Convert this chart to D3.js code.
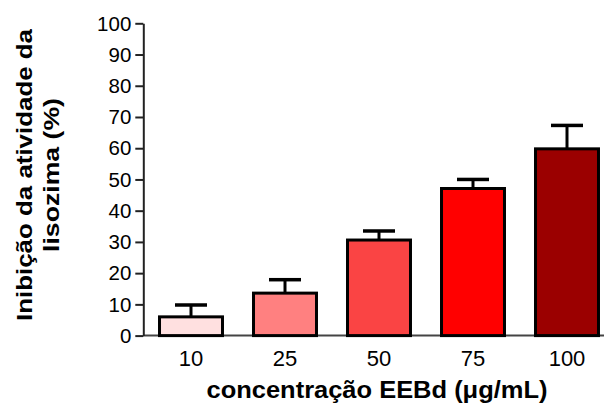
<!DOCTYPE html>
<html>
<head>
<meta charset="utf-8">
<script src="https://cdn.jsdelivr.net/npm/d3@7"></script>
<style>
  html, body { margin: 0; padding: 0; background: #fff; }
  svg { display: block; }
  text { font-family: Arial, "Liberation Sans", Helvetica, sans-serif; fill: #000; }
</style>
</head>
<body>
<svg id="chart" width="606" height="405"></svg>
<script>
// Lysozyme inhibition by EEBd concentration (mean + error)
const concentrations = ["10", "25", "50", "75", "100"];
const inhibition = [6.0, 13.6, 30.6, 47.1, 59.8];
const errors = [3.8, 4.3, 2.9, 2.9, 7.5];
const barColors = ["#FFE0E0", "#FF8080", "#FA4444", "#FF0000", "#9B0000"];
const yTicks = [0, 10, 20, 30, 40, 50, 60, 70, 80, 90, 100];

const svg = d3.select("#chart");

const x = d3.scaleBand()
  .domain(concentrations)
  .range([144, 614])
  .paddingInner(0.33)
  .paddingOuter(0.165);

const y = d3.scaleLinear().domain([0, 100]).range([335.6, 23.3]);

// x baseline
svg.append("line")
  .attr("x1", 143).attr("x2", 604)
  .attr("y1", y(0)).attr("y2", y(0))
  .attr("stroke", "#444").attr("stroke-width", 2);

// y axis
const yAxis = svg.append("g")
  .attr("transform", "translate(143.3,0)")
  .call(d3.axisLeft(y).tickValues(yTicks).tickSize(8).tickSizeOuter(0).tickPadding(4));
yAxis.select(".domain").attr("stroke", "#222").attr("stroke-width", 2);
yAxis.selectAll(".tick line").attr("stroke", "#222").attr("stroke-width", 2);
yAxis.selectAll(".tick text")
  .attr("font-size", 20.5)
  .attr("font-family", "Arial, 'Liberation Sans', sans-serif")
  .attr("fill", "#111")
  .attr("dy", "0.33em");

// x tick labels
const xAxis = svg.append("g")
  .attr("transform", `translate(0,${y(0)})`)
  .call(d3.axisBottom(x).tickSize(0).tickPadding(0));
xAxis.select(".domain").remove();
xAxis.selectAll(".tick text")
  .attr("font-size", 22)
  .attr("font-family", "Arial, 'Liberation Sans', sans-serif")
  .attr("fill", "#111")
  .attr("y", 30.5)
  .attr("dy", 0);

const data = concentrations.map((c, i) => ({ c, v: inhibition[i], e: errors[i], color: barColors[i] }));

// error bars (drawn beneath the bar outline)
const eb = svg.append("g").selectAll("g").data(data).join("g");
eb.append("line")
  .attr("x1", d => x(d.c) + x.bandwidth() / 2)
  .attr("x2", d => x(d.c) + x.bandwidth() / 2)
  .attr("y1", d => y(d.v))
  .attr("y2", d => y(d.v + d.e))
  .attr("stroke", "#000").attr("stroke-width", 3);
eb.append("line")
  .attr("x1", d => x(d.c) + x.bandwidth() / 2 - 16)
  .attr("x2", d => x(d.c) + x.bandwidth() / 2 + 16)
  .attr("y1", d => y(d.v + d.e))
  .attr("y2", d => y(d.v + d.e))
  .attr("stroke", "#000").attr("stroke-width", 3.5);

// bars
svg.append("g").selectAll("rect").data(data).join("rect")
  .attr("x", d => x(d.c))
  .attr("width", x.bandwidth())
  .attr("y", d => y(d.v))
  .attr("height", d => y(0) - y(d.v))
  .attr("fill", d => d.color)
  .attr("stroke", "#000")
  .attr("stroke-width", 3);

// axis titles
svg.append("text")
  .attr("x", 377).attr("y", 398)
  .attr("text-anchor", "middle")
  .attr("font-size", 23.5).attr("font-weight", "bold")
  .attr("textLength", 341).attr("lengthAdjust", "spacingAndGlyphs")
  .text("concentração EEBd (μg/mL)");

const yTitle = svg.append("text")
  .attr("transform", "translate(0,175) rotate(-90)")
  .attr("text-anchor", "middle")
  .attr("font-size", 22.5).attr("font-weight", "bold");
yTitle.append("tspan").attr("x", 0).attr("y", 32)
  .attr("textLength", 292).attr("lengthAdjust", "spacingAndGlyphs")
  .text("Inibição da atividade da");
yTitle.append("tspan").attr("x", 0).attr("y", 59)
  .attr("textLength", 154).attr("lengthAdjust", "spacingAndGlyphs")
  .text("lisozima (%)");
</script>
</body>
</html>
